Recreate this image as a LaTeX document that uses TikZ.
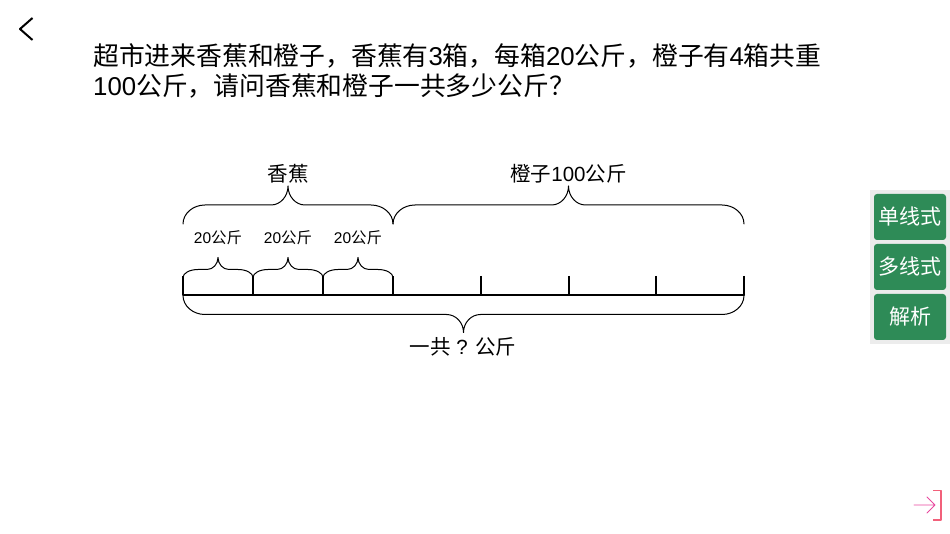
\documentclass[tikz,border=0pt]{standalone}
\usepackage{fontspec}
\setmainfont{Liberation Sans}
\newfontfamily\cjk{Noto Sans CJK SC}
\usetikzlibrary{calc}
\definecolor{btngreen}{HTML}{2E8B57}
\definecolor{panelgray}{HTML}{ECECEC}
\definecolor{exitpink}{HTML}{E8489E}
\definecolor{exitred}{HTML}{F2607A}
\newcommand{\zh}[1]{{\cjk #1}}
\tikzset{
	curly/.style n args={4}{to path={
		let \p1=(\tikztostart),\p2=(\tikztotarget),\p3=($(\p1)!.5!(\p2)$) in
		(\p1) .. controls (\x1,\y1+.55*#1) and (\x1+.45*#3,\y1+#1) .. (\x1+#3,\y1+#1)
		-- (\x3-#4,\y1+#1) .. controls (\x3-.45*#4,\y1+#1) and (\x3,\y1+#1+.45*#2) .. (\x3,\y1+#1+#2)
		.. controls (\x3,\y1+#1+.45*#2) and (\x3+.45*#4,\y1+#1) .. (\x3+#4,\y1+#1)
		-- (\x2-#3,\y1+#1) .. controls (\x2-.45*#3,\y1+#1) and (\x2,\y1+.55*#1) .. (\x2,\y1)}},
	bigtxt/.style={font=\fontsize{25.8}{26}\selectfont,anchor=base west,inner sep=0pt},
	lbl/.style={font=\fontsize{20.5}{21}\selectfont,inner sep=0pt,anchor=base},
	smalllbl/.style={font=\fontsize{15.5}{16}\selectfont,inner sep=0pt,anchor=base},
	btn/.style={fill=btngreen,rounded corners=3pt,minimum width=72pt,minimum height=46pt,inner sep=0pt,text=white,font=\fontsize{21}{21}\selectfont}
}
\begin{document}
\begin{tikzpicture}[x=1pt,y=-1pt,line join=round,line cap=round]
	\useasboundingbox (0,0) rectangle (950,534);
	\draw[line width=2pt,line cap=butt] (32.5,18)--(20,29)--(32.5,40);
	\node[bigtxt] (line1) at (93,66) {\zh{超市进来香蕉和橙子，香蕉有}3\zh{箱，每箱}20\zh{公斤，橙子有}4\zh{箱共重}};
	\node[bigtxt] (line2) at (93,95.5) {100\zh{公斤，请问香蕉和橙子一共多少公斤？}};
	% bar and ticks
	\foreach \n/\x in {a/183,b/253,c/323,d/393,e/481,f/569,g/656,h/744}{
		\coordinate (\n top) at (\x,276);
		\coordinate (\n) at (\x,295.5);
		\draw[line width=1.8pt,line cap=butt] (\n top)--(\n);
	}
	\draw[line width=2pt] (a)--(h);
	% braces
	\coordinate (s1) at (183,224); \coordinate (s2) at (393,224); \coordinate (s3) at (744,224);
	\draw[line width=1pt] (s1) to[curly={19pt}{19pt}{22pt}{17pt}] (s2);
	\draw[line width=1pt] (s2) to[curly={19pt}{19pt}{22pt}{17pt}] (s3);
	\foreach \p/\q in {a/b,b/c,c/d}
		\draw[line width=1pt] ($(\p)+(0,-18)$) to[curly={8pt}{12pt}{15pt}{11pt}] ($(\q)+(0,-18)$);
	\draw[line width=1pt] (a) to[curly={-19pt}{-18pt}{22pt}{17pt}] (h);
	% labels
	\node[lbl] (banana) at (288,181.5) {\zh{香蕉}};
	\node[lbl] (orange) at (568.5,181.5) {\zh{橙子}100\zh{公斤}};
	\foreach \x/\n in {218/w1,288/w2,358/w3}
		\node[smalllbl] (\n) at (\x,243.5) {20\zh{公斤}};
	\node[lbl] (total) at (463,355) {\zh{一共} ? \zh{公斤}};
	% side buttons
	\fill[panelgray] (870,190) rectangle (950,344);
	\node[btn] (single) at (910,217) {\raisebox{-.7pt}{\zh{单线式}}};
	\node[btn] (multi) at (910,267) {\raisebox{-.7pt}{\zh{多线式}}};
	\node[btn] (parse) at (910,317) {\raisebox{-.7pt}{\zh{解析}}};
	% exit icon
	\coordinate (exittail) at (914,505); \coordinate (exittip) at (935,505);
	\draw[exitpink,line width=.9pt] (exittail)--(exittip) (927,497)--(exittip)--(927,513);
	\draw[exitred,line width=1.1pt,line cap=butt] (933,490.5)--(941,490.5)--(941,520)--(933,520);
\end{tikzpicture}
\end{document}
